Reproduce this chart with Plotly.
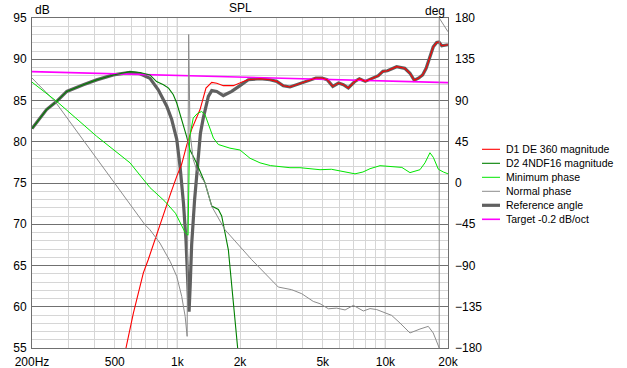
import numpy as np
import plotly.graph_objects as go

# ---------------- data ----------------
# D1 DE 360 magnitude (dB), low/mid part
d1_freq = [520, 566, 614, 686, 724, 809, 871, 930, 993, 1049, 1109, 1171, 1285, 1372, 1463, 1546, 1663, 1858, 2075]
d1_db = [50.0, 55.0, 59.2, 64.1, 65.7, 69.4, 71.6, 73.8, 75.8, 77.3, 79.6, 81.5, 83.9, 86.5, 87.2, 87.1, 86.8, 86.8, 87.3]

# high-frequency part shared by D1 and the reference-angle sum (dB)
hf_freq = [2193, 2496, 2787, 3001, 3230, 3478, 3748, 4030, 4335, 4636, 4957, 5247, 5586, 5954, 6280,
           6635, 7143, 7500, 8004, 8750, 9247, 9728, 10235, 11327, 12392, 13130, 13760, 14425, 15100,
           15700, 16378, 16985, 17650, 18100, 18663, 19400, 20000]
hf_db = [87.52, 87.64, 87.52, 87.32, 86.79, 86.64, 86.92, 87.28, 87.52, 87.73, 87.73, 87.52, 86.71, 87.12, 86.92,
         86.52, 87.32, 87.64, 87.32, 87.73, 88.0, 88.53, 88.61, 89.1, 88.9, 88.3, 87.45, 87.7, 88.1,
         88.9, 90.35, 91.5, 92.04, 92.1, 91.64, 91.7, 91.76]

# D2 4NDF16 magnitude (dB)
d2_freq = [200, 235, 263, 294, 353, 409, 492, 592, 661, 738, 794, 857, 907, 956, 993, 1049, 1109, 1150,
           1238, 1358, 1463, 1574, 1633, 1758, 1941, 2000]
d2_db = [81.6, 83.9, 84.9, 86.1, 86.9, 87.5, 88.1, 88.5, 88.4, 88.1, 87.3, 86.9, 86.5, 85.7, 84.7, 82.7, 80.6, 79.0,
         77.4, 75.0, 72.2, 71.8, 71.0, 66.9, 54.8, 52.0]

# Reference angle (summed) magnitude (dB), below the shared HF part
ref_freq = [200, 235, 263, 294, 353, 409, 492, 592, 661, 738, 809, 889, 939, 993, 1030, 1070, 1100, 1125,
            1138, 1152, 1171, 1210, 1250, 1290, 1330, 1358, 1409, 1463, 1546, 1663, 1824, 2000, 2100]
ref_db = [81.6, 83.9, 84.9, 86.1, 86.9, 87.5, 88.1, 88.4, 88.25, 87.7, 86.3, 84.3, 82.7, 80.3, 77.0, 72.5, 68.0, 62.5,
          59.4, 62.5, 67.5, 73.0, 77.5, 81.0, 82.8, 83.9, 85.5, 86.2, 86.1, 85.6, 86.1, 86.8, 87.2]

# Minimum phase (deg)
mp_freq = [200, 263, 409, 592, 738, 824, 871, 979, 1049, 1090, 1125, 1145, 1192, 1250, 1309, 1358, 1490, 1574,
           1790, 2000, 2234, 2496, 2800, 3113, 3478, 3885, 4851, 5500, 6400, 7143, 7800, 8436, 9423,
           10500, 11130, 12000, 13130, 14665, 15500, 16378, 17000, 17977, 19000, 20000]
mp_deg = [110, 89, 51, 22, -5, -15, -20, -33, -47, -54, -57, 50, 71, 76, 78, 74.5, 49, 42,
          38, 36, 27, 22, 19, 17.8, 16.7, 16.7, 14.5, 15, 12, 10, 12, 15.6, 18.9,
          18, 17.8, 17, 11.3, 14.5, 22, 33, 28, 15, 12, 10]

# Normal phase (deg)
np_freq = [200, 258, 409, 592, 698, 738, 824, 923, 993, 1049, 1090, 1114, 1133, 1150, 1192, 1240, 1358, 1463,
           1694, 2277, 2638, 3055, 3545, 3963, 4501, 4851, 5320, 5836, 6400, 7013, 7835, 8436, 9082, 9955,
           10717, 11749, 13130, 14665, 16073, 16985, 17977, 18150, 18150, 18663, 20000]
np_deg = [114.5, 89, 26.8, -22.9, -45.5, -51, -65.5, -85.5, -101.9, -123.7, -145.5, -167.3, 162, 55, 25.5, 14, 0, -25.5,
          -51, -83.7, -98.2, -113.5, -116.4, -120.8, -129.2, -131.7, -137.2, -136.5, -138.5, -133.5, -139.6, -137.0, -138.1, -141.8,
          -144.4, -152.7, -163.6, -159.3, -156.4, -163.6, -178, -180, 180, 176, 165]

# Target -0.2 dB/oct (end points)
tgt_freq = [200, 20000]
tgt_db = [88.5, 87.17]

x_tickvals = [200, 500, 1000, 2000, 5000, 10000, 20000]
x_ticktext = ["200Hz", "500", "1k", "2k", "5k", "10k", "20k"]
x_minor = [300, 400, 600, 700, 800, 900, 3000, 4000, 6000, 7000, 8000, 9000]
x_major_dark = [1000, 10000]
y_ticks = [55, 60, 65, 70, 75, 80, 85, 90, 95]
y2_ticks = [-180, -135, -90, -45, 0, 45, 90, 135, 180]

# ---------------- styling ----------------
FONT = "Liberation Sans, Arial, sans-serif"
RED = "#ff0000"
DGREEN = "#008000"
LGREEN = "#00e600"
GRAY = "#8c8c8c"
THICK = "#606060"
PINK = "#ff00ff"
MAJOR = "#707070"
MINOR = "#d6d6d6"

fig = go.Figure()

traces = [
    # (name, x, y, yaxis, color, width, legend order)
    ("Reference angle", ref_freq + hf_freq, ref_db + hf_db, "y", THICK, 3.2, 4),
    ("Target -0.2 dB/oct", tgt_freq, tgt_db, "y", PINK, 1.6, 5),
    ("D2 4NDF16 magnitude", d2_freq, d2_db, "y", DGREEN, 1.1, 1),
    ("D1 DE 360 magnitude", d1_freq + hf_freq, d1_db + hf_db, "y", RED, 1.1, 0),
    ("Normal phase", np_freq, np_deg, "y2", GRAY, 1.0, 3),
    ("Minimum phase", mp_freq, mp_deg, "y2", LGREEN, 1.0, 2),
]

for name, xs, ys, yax, col, w, _ in traces:
    fig.add_trace(go.Scatter(x=xs, y=ys, name=name, mode="lines", yaxis=yax,
                             line=dict(color=col, width=w), showlegend=False,
                             hoverinfo="skip"))

# plot area in pixels
L, R, T, B = 32, 448, 18, 348
W, H = 627, 368
pw, ph = R - L, B - T

def px(xp):
    return (xp - L) / pw

def py(yp):
    return (B - yp) / ph

fig.update_layout(
    width=W, height=H,
    margin=dict(l=L, r=W - R, t=T, b=H - B, pad=0, autoexpand=False),
    paper_bgcolor="white", plot_bgcolor="white",
    font=dict(family=FONT, size=12, color="black"),
    xaxis=dict(type="log", range=[np.log10(200), np.log10(20000)], automargin=False,
               tickmode="array", tickvals=x_tickvals, ticktext=x_ticktext,
               showgrid=True, gridcolor=MINOR, gridwidth=1,
               minor=dict(tickmode="array", tickvals=x_minor, showgrid=True,
                          gridcolor=MINOR, gridwidth=1, ticks=""),
               ticks="", showline=True, linecolor=MAJOR, linewidth=1, mirror=True,
               zeroline=False, ticklabelstandoff=3,
               tickfont=dict(size=12, family=FONT, color="black")),
    yaxis=dict(range=[55, 95], tickmode="array", tickvals=y_ticks, automargin=False,
               showgrid=True, gridcolor=MAJOR, gridwidth=1,
               minor=dict(dtick=1, showgrid=True, gridcolor=MINOR, gridwidth=1, ticks=""),
               ticks="", showline=True, linecolor=MAJOR, linewidth=1, mirror=True,
               zeroline=False, ticklabelstandoff=2,
               tickfont=dict(size=12, family=FONT, color="black")),
    yaxis2=dict(range=[-180, 180], overlaying="y", side="right", tickmode="array",
                tickvals=y2_ticks, showgrid=False, zeroline=False, ticks="",
                showline=False, ticklabelstandoff=6, automargin=False,
                tickfont=dict(size=12, family=FONT, color="black")),
    showlegend=False,
)

# darker decade grid lines
for xv in x_major_dark:
    fig.add_shape(type="line", xref="x", yref="paper", x0=xv, x1=xv, y0=0, y1=1,
                  line=dict(color=MAJOR, width=1), layer="below")

# axis titles
fig.add_annotation(text="dB", xref="paper", yref="paper", x=px(33), y=py(10),
                   xanchor="left", yanchor="middle", showarrow=False,
                   font=dict(size=12, family=FONT, color="black"))
fig.add_annotation(text="SPL", xref="paper", yref="paper", x=px(240), y=py(8),
                   xanchor="center", yanchor="middle", showarrow=False,
                   font=dict(size=12, family=FONT, color="black"))
fig.add_annotation(text="deg", xref="paper", yref="paper", x=px(447), y=py(11),
                   xanchor="right", yanchor="middle", showarrow=False,
                   font=dict(size=12, family=FONT, color="black"))

# custom compact legend
legend_items = sorted(traces, key=lambda t: t[6])
y0_px, step = 149.3, 14
for i, (name, _, _, _, col, w, _) in enumerate(legend_items):
    yy = py(y0_px + i * step)
    fig.add_shape(type="line", xref="paper", yref="paper", x0=px(482), x1=px(500),
                  y0=yy, y1=yy, line=dict(color=col, width=w))
    fig.add_annotation(text=name, xref="paper", yref="paper", x=px(504), y=yy,
                       xanchor="left", yanchor="middle", showarrow=False,
                       font=dict(size=10.5, family=FONT, color="black"))

fig.write_html("out.html", config={"displayModeBar": False, "staticPlot": True},
               post_script="document.body.style.margin='0';document.body.style.overflow='hidden';")
